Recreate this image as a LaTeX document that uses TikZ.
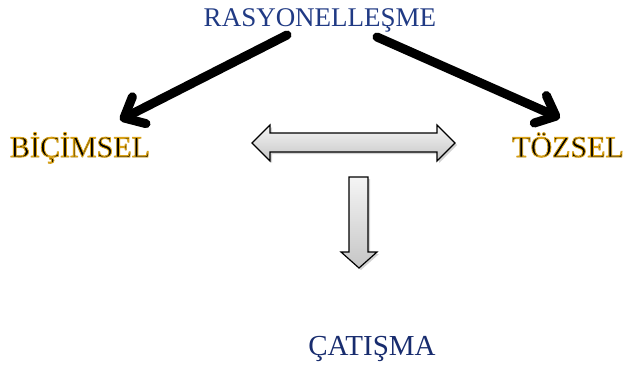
\documentclass[tikz,border=0pt]{standalone}
\usepackage{fontspec}
\setmainfont{Liberation Serif}
\definecolor{titleBlue}{RGB}{32, 58, 132}
\definecolor{darkBlue}{RGB}{24, 44, 110}
\usetikzlibrary{arrows.meta, positioning, calc, shadows}
% black letters with a thin golden edge
\newcommand{\goldedge}[1]{\special{pdf:literal direct 2 Tr 0.9 w 0.85 0.63 0.08 RG}#1\special{pdf:literal direct 0 Tr}}

\begin{document}
\begin{tikzpicture}[x=1pt, y=-1pt,
    label/.style={anchor=base, inner sep=0pt},
    pointer/.style={line width=9pt, line cap=round,
        -{Straight Barb[length=17pt, width=30pt, line cap=round, round]}},
    blockarrow/.style={draw=black, line width=1.2pt, line join=miter,
        top color=gray!8, bottom color=gray!45,
        drop shadow={opacity=0.35, shadow xshift=2pt, shadow yshift=-2pt}}]
                \useasboundingbox (0,0) rectangle (625,372);

                % Top label
                \node[label, text=titleBlue, font=\fontsize{27}{30}\selectfont] (rasyon) at (320,27) {RASYONELLEŞME};

                % Side labels
                \node[label, font=\fontsize{30}{33}\selectfont] (bicimsel) at (80,157) {\goldedge{BİÇİMSEL}};
                \node[label, font=\fontsize{30}{33}\selectfont] (tozsel) at (568,157) {\goldedge{TÖZSEL}};

                % Bottom label
                \node[label, text=darkBlue, font=\fontsize{29}{32}\selectfont] (catisma) at (372,355) {ÇATIŞMA};

                % Black pointers with soft shadow
                \begin{scope}[shift={(3,4)}, opacity=0.25, gray]
                    \draw[pointer] ($(rasyon.base)+(-33,8)$) -- ($(bicimsel.base)+(40,-37)$);
                    \draw[pointer] ($(rasyon.base)+(57,10)$) -- ($(tozsel.base)+(-8,-39)$);
                \end{scope}
                \draw[pointer] ($(rasyon.base)+(-33,8)$) -- ($(bicimsel.base)+(40,-37)$);
                \draw[pointer] ($(rasyon.base)+(57,10)$) -- ($(tozsel.base)+(-8,-39)$);

                % Double block arrow
                \draw[blockarrow] (252,143) -- (270,125) -- (270,133) -- (437,133) -- (437,125)
                    -- (455,143) -- (437,161) -- (437,152) -- (270,152) -- (270,161) -- cycle;

                % Down block arrow
                \draw[blockarrow] (349,177) -- (368,177) -- (368,252) -- (377,252) -- (359,268)
                    -- (341,252) -- (349,252) -- cycle;
            \end{tikzpicture}
\end{document}
